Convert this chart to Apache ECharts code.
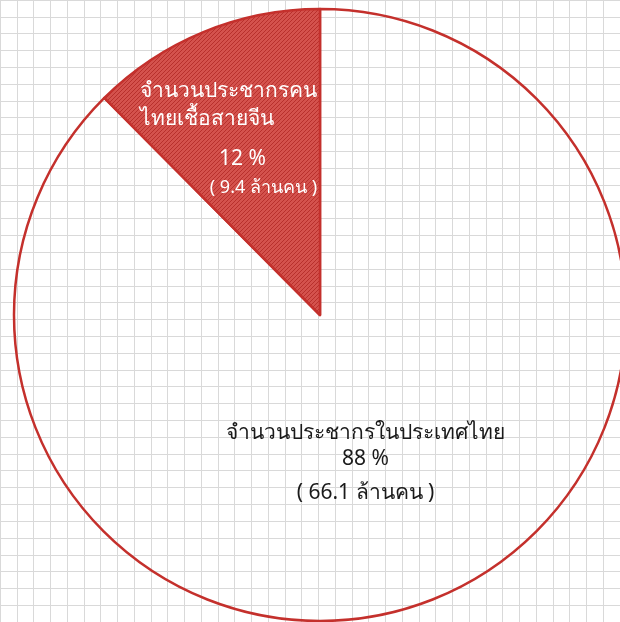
<!DOCTYPE html>
<html><head><meta charset="utf-8">
<script src="https://cdn.jsdelivr.net/npm/echarts@6/dist/echarts.min.js"></script>
<style>html,body{margin:0;padding:0;background:#fff}#c{width:620px;height:622px}</style>
</head><body><div id="c"></div>
<script>
var categories = ['จำนวนประชากรในประเทศไทย', 'จำนวนประชากรคน\nไทยเชื้อสายจีน'];
var values = [66.1, 9.4];           // ล้านคน
var unitLabel = 'ล้านคน';

var total = values.reduce(function(a,b){return a+b;},0);
function pct(v){ return Math.round(v/total*100); }

// hatch pattern for the highlighted slice
var pc = document.createElement('canvas');
pc.width = 4; pc.height = 4;
var g = pc.getContext('2d');
g.fillStyle = '#d4524d'; g.fillRect(0,0,4,4);
g.strokeStyle = '#b8302c'; g.lineWidth = 1;
g.beginPath(); g.moveTo(0,4); g.lineTo(4,0); g.moveTo(-1,1); g.lineTo(1,-1); g.moveTo(3,5); g.lineTo(5,3); g.stroke();

var cell = 17.457;
var font = 'Tahoma, "Noto Sans", sans-serif';
var chart = echarts.init(document.getElementById('c'), null, {renderer:'canvas'});
var redLines = categories[1].split('\n');
chart.setOption({
  animation:false,
  grid:{left:9-cell, top:6-cell, width:cell*37, height:cell*37},
  xAxis:{type:'value', min:0, max:37, interval:1, axisLine:{show:false}, axisTick:{show:false}, axisLabel:{show:false},
         splitLine:{show:true, lineStyle:{color:'#d9d9d9', width:1}}},
  yAxis:{type:'value', min:0, max:37, interval:1, axisLine:{show:false}, axisTick:{show:false}, axisLabel:{show:false},
         splitLine:{show:true, lineStyle:{color:'#d9d9d9', width:1}}},
  series:[{
    type:'pie', center:[320,315], radius:306, startAngle:90, clockwise:true,
    silent:true, labelLine:{show:false},
    data:[
      {value:values[0], name:categories[0],
       itemStyle:{color:'rgba(255,255,255,0)', borderColor:'#c4302c', borderWidth:2.5},
       label:{position:'inside', offset:[-14,4], color:'#1a1a1a', fontFamily:font,
         formatter:'{a|'+categories[0]+'}\n{b|'+pct(values[0])+' %}\n{s|}\n{c|( '+values[0]+' '+unitLabel+' )}',
         rich:{a:{fontSize:21, lineHeight:26, color:'#1a1a1a', fontFamily:font},
               b:{fontSize:21, lineHeight:25, color:'#1a1a1a', fontFamily:font},
               s:{fontSize:4, lineHeight:9},
               c:{fontSize:21, lineHeight:26, color:'#1a1a1a', fontFamily:font}}}},
      {value:values[1], name:categories[1],
       itemStyle:{color:{image:pc, repeat:'repeat'}, borderColor:'#c4302c', borderWidth:2.5},
       label:{position:'inside', offset:[-32,-31], color:'#fff', fontFamily:font,
         formatter:'{t|'+redLines[0]+'}\n{t|'+redLines[1]+'}\n{s|}\n{p|'+pct(values[1])+' %}\n{q|( '+values[1]+' '+unitLabel+' )}',
         rich:{t:{fontSize:21, lineHeight:28, color:'#fff', align:'left', fontFamily:font},
               s:{fontSize:4, lineHeight:12},
               p:{fontSize:21, lineHeight:28, color:'#fff', align:'center', padding:[0,0,0,28], fontFamily:font},
               q:{fontSize:18, lineHeight:30, color:'#fff', align:'right', fontFamily:font}}}}
    ]
  }]
});
</script></body></html>
